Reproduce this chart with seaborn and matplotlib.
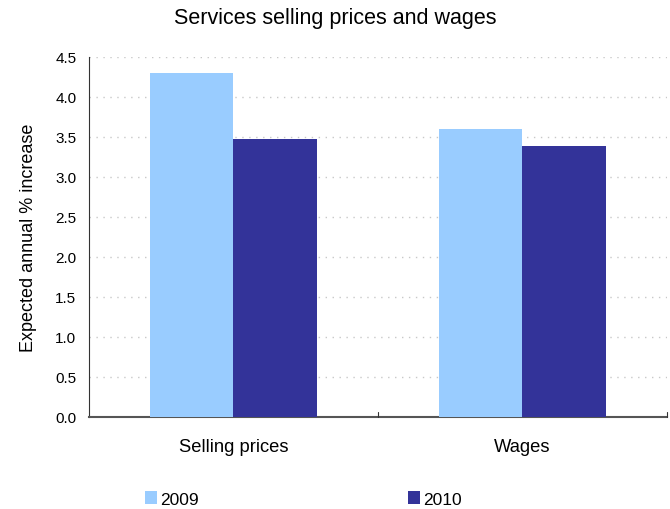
import matplotlib
matplotlib.use("Agg")
import matplotlib.pyplot as plt
import seaborn as sns
import pandas as pd
from matplotlib.patches import Patch

categories = ["Selling prices", "Wages"]
years = ["2009", "2010"]
values_2009 = [4.3, 3.6]
values_2010 = [3.47, 3.39]
colors = ["#99ccff", "#333399"]

df = pd.DataFrame({
    "category": categories * 2,
    "year": [years[0]] * 2 + [years[1]] * 2,
    "value": values_2009 + values_2010,
})

sns.set_style("white")
plt.rcParams["font.family"] = ["Liberation Sans", "DejaVu Sans"]
plt.rcParams["text.color"] = "black"
plt.rcParams["axes.labelcolor"] = "black"
plt.rcParams["xtick.color"] = "black"
plt.rcParams["ytick.color"] = "black"

fig = plt.figure(figsize=(6.7, 5.1), dpi=100)
ax = fig.add_axes([0.1328, 0.1804, 0.8627, 0.7059])

sns.barplot(data=df, x="category", y="value", hue="year", palette=colors,
            width=0.58, gap=0, saturation=1, ax=ax, legend=False, zorder=3,
            linewidth=0, edgecolor="none")

ax.set_ylim(0, 4.5)
ax.set_xlim(-0.5, 1.5)
ax.set_yticks([i * 0.5 for i in range(10)])
ax.set_yticklabels([f"{i * 0.5:.1f}" for i in range(10)], fontsize=11)
ax.yaxis.grid(True, linestyle=(0, (1, 4)), color="#c8c8c8", linewidth=1, zorder=0)
ax.set_axisbelow(True)

ax.set_xticks([0, 1])
ax.set_xticklabels(categories, fontsize=13.2)
ax.tick_params(axis="x", length=0, pad=15)
ax.tick_params(axis="y", length=3, width=0.8, color="#333333", direction="out", pad=6)
for xb in [0.5, 1.5]:
    ax.plot([xb, xb], [0, 0.06], color="#333333", linewidth=0.8, zorder=4, clip_on=False)

for side in ["top", "right"]:
    ax.spines[side].set_visible(False)
ax.spines["left"].set_color("#333333")
ax.spines["left"].set_linewidth(0.8)
ax.spines["bottom"].set_color("#555555")
ax.spines["bottom"].set_linewidth(1.5)

ax.set_xlabel("")
ax.set_ylabel("Expected annual % increase", fontsize=13, labelpad=13)

fig.suptitle("Services selling prices and wages", fontsize=15.5, y=0.985)

handles = [Patch(facecolor=c, edgecolor="none") for c in colors]
fig.legend(handles, years, loc="lower left", bbox_to_anchor=(0.193, -0.026),
           ncol=2, frameon=False, fontsize=12.5, handlelength=0.7, handleheight=0.7,
           handletextpad=0.2, columnspacing=12.0)

fig.savefig("out.png", dpi=100)
